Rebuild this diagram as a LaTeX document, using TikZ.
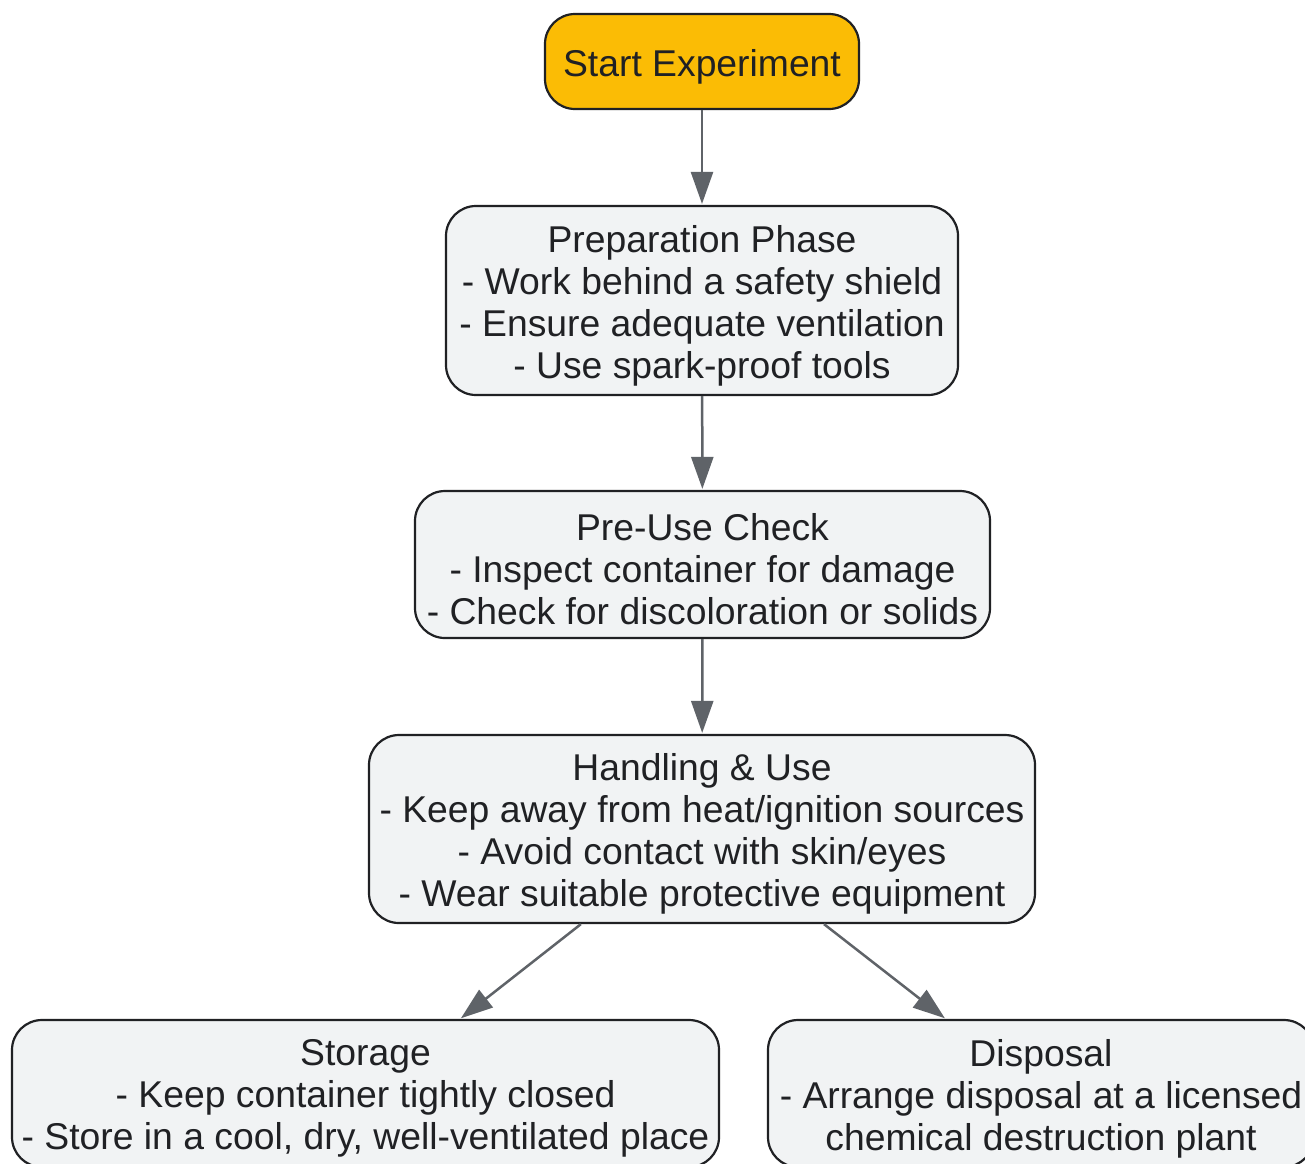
\documentclass[tikz,border=0pt]{standalone}
\usepackage{fontspec}
\setmainfont{Liberation Sans}
\usetikzlibrary{arrows.meta}
\definecolor{ink}{HTML}{202124}
\definecolor{boxfill}{HTML}{F1F3F4}
\definecolor{amber}{HTML}{FBBC05}
\definecolor{arrowgray}{HTML}{5F6368}
\tikzset{
  box/.style={draw=ink, line width=2.2pt, fill=boxfill, rounded corners=30pt,
    inner sep=0pt},
  startbox/.style={box, fill=amber},
  boxtext/.style={inner sep=0pt, align=center, text=ink, yshift=-5pt,
    font=\fontsize{37.3}{42}\selectfont},
  arr/.style={draw=arrowgray, line width=2.5pt,
    -{Triangle[length=32pt,width=22pt]}, shorten >=1pt},
}
\begin{document}
\begin{tikzpicture}[x=1pt,y=-1pt]
\clip (0,0) rectangle (1305,1163);
\fill[white] (0,0) rectangle (1305,1163);

\node[startbox, minimum width=314pt, minimum height=95pt] (start) at (702,61.5) {};
\node[box, minimum width=512pt, minimum height=189pt] (prep) at (702,300.5) {};
\node[box, minimum width=575pt, minimum height=147pt] (check) at (702.5,564.5) {};
\node[box, minimum width=666pt, minimum height=188pt] (handle) at (702,829) {};
\node[box, minimum width=707pt, minimum height=147pt] (store) at (365.5,1093.5) {};
\node[box, minimum width=546pt, minimum height=147pt] (dispose) at (1041,1093.5) {};

\node[boxtext] (starttext) at (start) {Start Experiment};
\node[boxtext] (preptext) at (prep)
  {Preparation Phase\\- Work behind a safety shield\\- Ensure adequate ventilation\\- Use spark-proof tools};
\node[boxtext] (checktext) at (check)
  {Pre-Use Check\\- Inspect container for damage\\- Check for discoloration or solids};
\node[boxtext] (handletext) at (handle)
  {Handling \& Use\\- Keep away from heat/ignition sources\\- Avoid contact with skin/eyes\\- Wear suitable protective equipment};
\node[boxtext] (storetext) at (store)
  {Storage\\- Keep container tightly closed\\- Store in a cool, dry, well-ventilated place};
\node[boxtext] (disposetext) at (dispose)
  {Disposal\\- Arrange disposal at a licensed\\chemical destruction plant};

\draw[arr] (start) -- (prep);
\draw[arr] (prep) -- (check);
\draw[arr] (check) -- (handle);
\draw[arr] (handle) -- (store);
\draw[arr] (handle) -- (dispose);
\end{tikzpicture}
\end{document}
